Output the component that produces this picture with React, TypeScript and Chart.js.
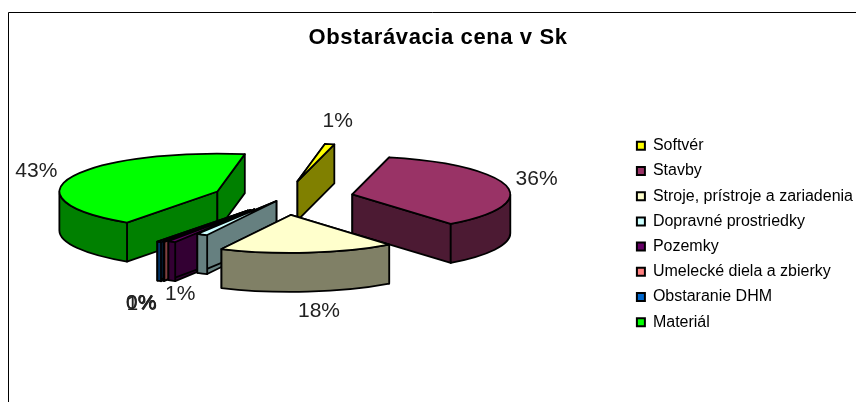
import React, { useEffect, useRef } from "react";
import { Chart, registerables } from "chart.js";

Chart.register(...registerables);

const categories = ["Softvér", "Stavby", "Stroje, prístroje a zariadenia", "Dopravné prostriedky", "Pozemky", "Umelecké diela a zbierky", "Obstaranie DHM", "Materiál"];
const values = [0.97, 35.52, 17.91, 1.12, 0.8, 0.1, 0.45, 43.05];
const explosions = [71, 71, 71, 14, 55, 60, 63, 71];
const topColors = ["#FFFF00", "#993366", "#FFFFCC", "#CCFFFF", "#660066", "#FF8080", "#0066CC", "#00FF00"];
const sideColors = ["#808000", "#4C1A33", "#808066", "#668080", "#330033", "#804040", "#003366", "#008000"];
const drawOrder = [0, 7, 1, 6, 5, 4, 3, 2];
const labelNudges = [[8, -23], [30, -7], [11, 59], [-22, 60], [-30, 63], [-23, 61], [-18, 61], [-35, -6]];

const view = { x: 283, y: 198, squash: 0.24, depth: 39 };

const pie3d = {
  id: "pie3d",
  beforeDraw(chart: any) {
    const { ctx, width, height } = chart;
    const block = chart.titleBlock;
    if (block && !block.__spaced) {
      const original = block.draw.bind(block);
      block.draw = (...args: any[]) => {
        ctx.letterSpacing = "0.6px";
        original(...args);
        ctx.letterSpacing = "0px";
      };
      block.__spaced = true;
    }
    ctx.save();
    ctx.fillStyle = "#fff";
    ctx.fillRect(0, 0, width, height);
    ctx.strokeStyle = "#000";
    ctx.lineWidth = 1;
    ctx.beginPath();
    ctx.moveTo(8.5, height);
    ctx.lineTo(8.5, 12.5);
    ctx.lineTo(width, 12.5);
    ctx.stroke();
    ctx.restore();
  },
  beforeDatasetsDraw(chart: any) {
    const { ctx } = chart;
    const arcs = chart.getDatasetMeta(0).data;
    const { x: cx, y: cy, squash: k, depth: D } = view;
    const total = values.reduce((a, b) => a + b, 0);
    ctx.save();
    ctx.lineWidth = 1.8;
    ctx.lineJoin = "round";
    ctx.strokeStyle = "#000";
    const shape = (i: number) => {
      const arc = arcs[i];
      const a0 = arc.startAngle;
      const a1 = arc.endAngle;
      const mid = (a0 + a1) / 2;
      const off = arc.options.offset;
      const R = arc.outerRadius;
      return { a0, a1, mid, R, ax: cx + off * Math.cos(mid), ay: cy + off * k * Math.sin(mid) };
    };
    for (const i of drawOrder) {
      const { a0, a1, R, ax, ay } = shape(i);
      const px = (a: number) => ax + R * Math.cos(a);
      const py = (a: number) => ay + R * k * Math.sin(a);
      ctx.fillStyle = sideColors[i];
      for (const a of [a0, a1]) {
        ctx.beginPath();
        ctx.moveTo(ax, ay);
        ctx.lineTo(px(a), py(a));
        ctx.lineTo(px(a), py(a) + D);
        ctx.lineTo(ax, ay + D);
        ctx.closePath();
        ctx.fill();
        ctx.stroke();
      }
      for (const base of [-2 * Math.PI, 0, 2 * Math.PI]) {
        const s = Math.max(a0, base);
        const e = Math.min(a1, base + Math.PI);
        if (e <= s) continue;
        ctx.beginPath();
        ctx.ellipse(ax, ay, R, R * k, 0, s, e);
        ctx.ellipse(ax, ay + D, R, R * k, 0, e, s, true);
        ctx.closePath();
        ctx.fill();
        ctx.stroke();
      }
      ctx.fillStyle = topColors[i];
      ctx.beginPath();
      ctx.moveTo(ax, ay);
      ctx.ellipse(ax, ay, R, R * k, 0, a0, a1);
      ctx.closePath();
      ctx.fill();
      ctx.stroke();
    }
    ctx.fillStyle = "#222";
    ctx.font = "21px 'Liberation Sans'";
    ctx.textAlign = "center";
    ctx.textBaseline = "middle";
    values.forEach((v, i) => {
      const { mid, R, ax, ay } = shape(i);
      const text = `${Math.round((100 * v) / total)}%`;
      ctx.fillText(text, ax + R * Math.cos(mid) + labelNudges[i][0], ay + R * k * Math.sin(mid) + labelNudges[i][1]);
    });
    ctx.restore();
    return false;
  },
};

export default function App() {
  const ref = useRef<HTMLCanvasElement>(null);
  useEffect(() => {
    const chart = new Chart(ref.current!, {
      type: "pie",
      data: {
        labels: categories,
        datasets: [{ data: values, backgroundColor: topColors, offset: explosions, borderWidth: 0 }],
      },
      plugins: [pie3d],
      options: {
        animation: false,
        responsive: false,
        rotation: 10,
        radius: 158,
        layout: { padding: { left: 13, right: -7, top: 0, bottom: -66 } },
        plugins: {
          tooltip: { enabled: false },
          title: {
            display: true,
            text: "Obstarávacia cena v Sk",
            color: "#000",
            font: { family: "'Liberation Sans'", size: 22, weight: "bold" },
            padding: { top: 25, bottom: 10 },
          },
          legend: {
            position: "right",
            labels: {
              color: "#222",
              font: { family: "'Liberation Sans'", size: 16 },
              boxWidth: 8,
              boxHeight: 8,
              padding: 9.2,
              generateLabels: () =>
                categories.map((text, i) => ({ text, fillStyle: topColors[i], strokeStyle: "#000", lineWidth: 2, hidden: false, index: i })),
            },
          },
        },
      },
    } as any);
    return () => chart.destroy();
  }, []);
  return (
    <div style={{ position: "absolute", left: 0, top: 0, width: 856, height: 402 }}>
      <canvas ref={ref} width={856} height={402} style={{ display: "block" }} />
    </div>
  );
}
